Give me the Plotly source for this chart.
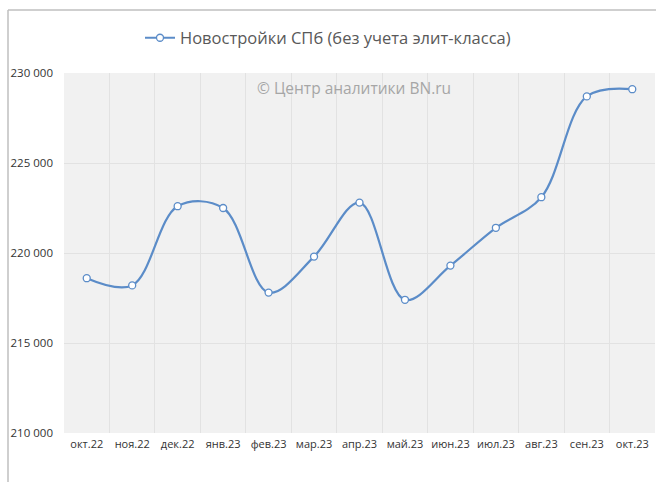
import plotly.graph_objects as go

months = ["окт.22", "ноя.22", "дек.22", "янв.23", "фев.23", "мар.23", "апр.23",
          "май.23", "июн.23", "июл.23", "авг.23", "сен.23", "окт.23"]
prices = [218600, 218200, 222600, 222500, 217800, 219800, 222800,
          217400, 219300, 221400, 223100, 228700, 229100]
series_name = "Новостройки СПб (без учета элит-класса)"
y_ticks = [210000, 215000, 220000, 225000, 230000]

W, H = 656, 482
ML, MR, MT, MB = 64, 1, 73, 49

x_idx = list(range(len(months)))

fig = go.Figure()
fig.add_trace(go.Scatter(
    x=x_idx, y=prices, name=series_name, mode="lines+markers",
    line=dict(color="#5b8cc8", width=2.2, shape="spline", smoothing=1.0),
    marker=dict(symbol="circle", size=7, color="white",
                line=dict(color="#5b8cc8", width=1.3)),
    showlegend=True,
))

fig.update_layout(
    width=W, height=H,
    margin=dict(l=ML, r=MR, t=MT, b=MB),
    paper_bgcolor="white",
    plot_bgcolor="#f1f1f1",
    separators=", ",
    font=dict(family="Open Sans, Noto Sans, sans-serif", color="#404040"),
    showlegend=True,
    legend=dict(orientation="h", x=0.5, xref="container", xanchor="center",
                y=(H - 38) / H, yref="container",
                yanchor="middle", font=dict(size=16.5, color="#595959"),
                bgcolor="rgba(0,0,0,0)", itemwidth=30),
    xaxis=dict(
        range=[-0.5, len(months) - 0.5],
        tickvals=x_idx, ticktext=months,
        showgrid=False, zeroline=False, showline=False,
        tickfont=dict(size=11, color="#333333"),
        ticks="", ticklabelstandoff=3,
        minor=dict(tickvals=[i + 0.5 for i in x_idx[:-1]], showgrid=True,
                   gridcolor="#e2e2e2", gridwidth=1),
        fixedrange=True,
    ),
    yaxis=dict(
        range=[210000, 230000],
        tickvals=y_ticks, tickformat=",d",
        showgrid=True, gridcolor="#e2e2e2", gridwidth=1,
        zeroline=False, showline=False,
        tickfont=dict(size=11.5, color="#333333"),
        ticks="", ticklabelstandoff=10,
        fixedrange=True,
    ),
    annotations=[dict(
        text="© Центр аналитики BN.ru", xref="paper", yref="paper",
        x=(354 - ML) / (W - ML - MR), y=1 - (88 - MT) / (H - MT - MB),
        showarrow=False, font=dict(size=15.5, color="#a6a6a6"),
        xanchor="center", yanchor="middle",
    )],
    shapes=[
        dict(type="line", xref="paper", yref="paper",
             x0=(8 - ML) / (W - ML - MR), x1=1.01,
             y0=1 + (MT - 10) / (H - MT - MB), y1=1 + (MT - 10) / (H - MT - MB),
             line=dict(color="#bfbfbf", width=1.5)),
        dict(type="line", xref="paper", yref="paper",
             x0=(8 - ML) / (W - ML - MR), x1=(8 - ML) / (W - ML - MR),
             y0=1 + (MT - 10) / (H - MT - MB), y1=-MB / (H - MT - MB),
             line=dict(color="#bfbfbf", width=1.5)),
    ],
)

fig.write_html("out.html", config={"displayModeBar": False},
               post_script="document.body.style.margin='0';document.body.style.overflow='hidden';")
